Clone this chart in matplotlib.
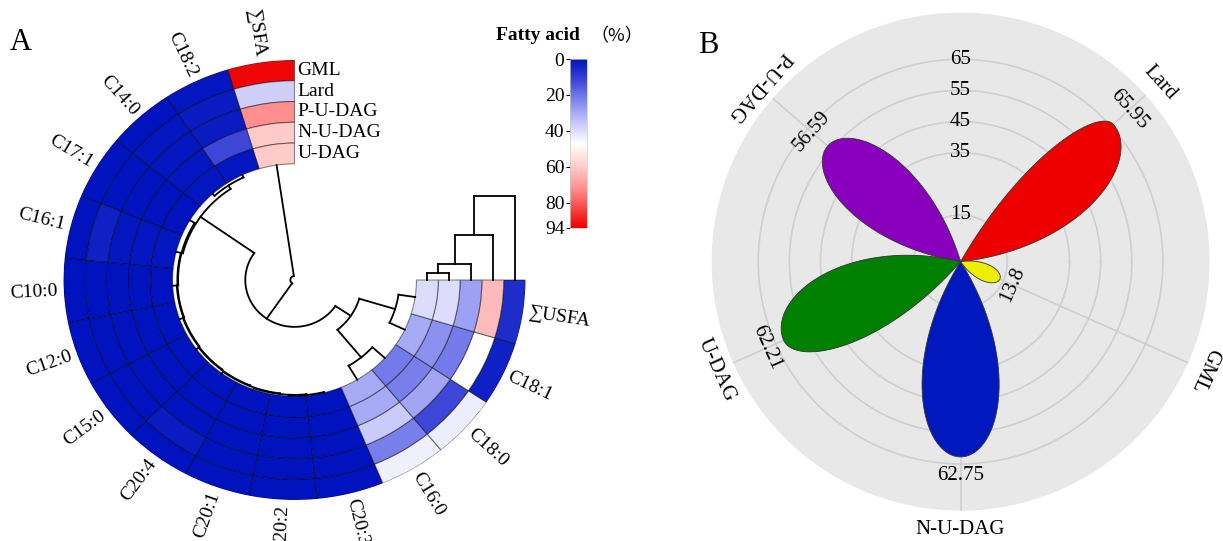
import numpy as np
import matplotlib as mpl
import matplotlib.pyplot as plt
from matplotlib.colors import LinearSegmentedColormap, Normalize
from matplotlib.cm import ScalarMappable

mpl.rcParams['font.family'] = ['Liberation Serif', 'DejaVu Serif']
mpl.rcParams['font.size'] = 14

# ---------------- panel A data ----------------
fatty_acids = ['∑SFA', 'C18:2', 'C14:0', 'C17:1', 'C16:1', 'C10:0', 'C12:0', 'C15:0',
               'C20:4', 'C20:1', 'C20:2', 'C20:3', 'C16:0', 'C18:0', 'C18:1', '∑USFA']
samples = ['GML', 'Lard', 'P-U-DAG', 'N-U-DAG', 'U-DAG']     # outer ring -> inner ring
gml     = [93, 1, 0, 0, 0, 0, 0, 0, 0, 0, 0, 0, 44, 43, 3, 6]
lard    = [37, 2, 1, 0, 3, 0, 0, 0, 2, 0, 0, 0, 22, 12, 47, 63]
p_u_dag = [72, 2, 1, 0, 1, 0, 0, 0, 0, 0, 0, 0, 36, 29, 21, 28]
n_u_dag = [60, 12, 1, 0, 1, 0, 0, 0, 0, 0, 0, 0, 30, 22, 25, 40]
u_dag   = [60, 1, 1, 0, 1, 0, 0, 0, 0, 0, 0, 0, 30, 21, 30, 40]

# column clustering (child a, child b, merge height) -> new node ids from 16
col_merges = [(10, 11, 0.003), (9, 16, 0.006), (8, 17, 0.009), (7, 18, 0.012),
              (6, 19, 0.015), (5, 20, 0.018), (4, 21, 0.021), (3, 22, 0.024),
              (1, 2, 0.012), (24, 23, 0.030),
              (12, 13, 0.073), (14, 15, 0.073), (26, 27, 0.235),
              (25, 28, 0.315), (0, 29, 0.51)]
# sample clustering (indices into samples) -> new node ids from 5
row_merges = [(4, 3, 0.032), (5, 2, 0.073), (6, 1, 0.205), (7, 0, 0.382)]

cbar_ticks = [0, 20, 40, 60, 80, 94]
cmap_stops = [(0, '#0013BE'), (12, '#3E47D7'), (22, '#7A80EC'), (30, '#A8ACF5'),
              (38, '#D4D4FA'), (47, '#FFFFFF'), (60, '#FFCACA'), (72, '#FF9090'),
              (94, '#EE0000')]

# ---------------- panel B data ----------------
groups_b = ['Lard', 'P-U-DAG', 'U-DAG', 'N-U-DAG', 'GML']
angles_b = [42, 139, 204, 270, 336]
values_b = [65.95, 56.59, 62.21, 62.75, 13.8]
colors_b = ['#EE0000', '#8800BB', '#008000', '#0019BE', '#EEEE00']
rings_b = [15, 35, 45, 55, 65]

W, H = 1223, 541
fig = plt.figure(figsize=(W / 100, H / 100), dpi=100)

cmap = LinearSegmentedColormap.from_list('fa', [(v / 94, c) for v, c in cmap_stops])
norm = Normalize(0, 94)

# ================= panel A =================
cx, cy, rx, ry = 294.5, 280, 231, 220
rect_a = [(cx - rx) / W, (H - cy - ry) / H, 2 * rx / W, 2 * ry / H]
axA = fig.add_axes(rect_a, projection='polar')
axA.set_aspect('auto')
axA.set_ylim(0, 1)
axA.axis('off')

r_in = 0.528
ring_w = (1 - r_in) / 5
n_col = len(fatty_acids)
col_w = np.radians(270) / n_col
col_theta = np.radians(90) + col_w * (np.arange(n_col) + 0.5)

table = [gml, lard, p_u_dag, n_u_dag, u_dag]
for i, row in enumerate(table):
    bottom = r_in + (4 - i) * ring_w
    axA.bar(col_theta, ring_w, width=col_w, bottom=bottom,
            color=cmap(norm(np.array(row))), edgecolor=(0, 0, 0, 0.45),
            linewidth=0.8, align='center')

# circular dendrogram for the fatty acids
pos = {i: col_theta[i] for i in range(n_col)}
rad = {i: r_in for i in range(n_col)}
for k, (a, b, h) in enumerate(col_merges):
    r = r_in - h
    for c in (a, b):
        axA.plot([pos[c], pos[c]], [rad[c], r], color='black', lw=1.3)
    arc = np.linspace(pos[a], pos[b], 80)
    axA.plot(arc, np.full_like(arc, r), color='black', lw=1.3)
    pos[n_col + k] = (pos[a] + pos[b]) / 2
    rad[n_col + k] = r

for th, name in zip(col_theta, fatty_acids):
    deg = np.degrees(th)
    if np.cos(th) >= 0:
        rot, ha = deg, 'left'
    else:
        rot, ha = deg - 180, 'right'
    axA.text(th, 1.025, name, rotation=rot, rotation_mode='anchor',
             ha=ha, va='center', fontsize=14)

# overlay in cartesian units for the sample dendrogram and labels
axO = fig.add_axes(rect_a)
axO.set_xlim(-1, 1)
axO.set_ylim(-1, 1)
axO.axis('off')

xpos = {i: r_in + (4 - i + 0.5) * ring_w for i in range(len(samples))}
ypos = {i: 0.0 for i in range(len(samples))}
for k, (a, b, h) in enumerate(row_merges):
    for c in (a, b):
        axO.plot([xpos[c], xpos[c]], [ypos[c], h], color='black', lw=1.3)
    axO.plot([xpos[a], xpos[b]], [h, h], color='black', lw=1.3)
    xpos[len(samples) + k] = (xpos[a] + xpos[b]) / 2
    ypos[len(samples) + k] = h

for i, s in enumerate(samples):
    axO.text(0.012, r_in + (4 - i + 0.5) * ring_w, s, ha='left', va='center', fontsize=14)

# colour bar
cax = fig.add_axes([570 / W, (H - 228) / H, 17 / W, 169 / H])
cb = fig.colorbar(ScalarMappable(norm=norm, cmap=cmap), cax=cax)
cb.set_ticks(cbar_ticks)
cax.invert_yaxis()
cax.yaxis.set_ticks_position('left')
cax.tick_params(length=3, width=0.8, labelsize=14, pad=1)
cb.outline.set_edgecolor('#cccccc')
cb.outline.set_linewidth(0.5)
fig.text(496 / W, (H - 36) / H, 'Fatty acid', fontsize=14, weight='bold',
         ha='left', va='center')
fig.text(590 / W, (H - 36) / H, '（%）', fontsize=13, ha='left', va='center',
         family=['Noto Sans CJK SC', 'DejaVu Sans'])

fig.text(21 / W, (H - 43) / H, 'A', fontsize=22, ha='center', va='center')

# ================= panel B =================
bx, by, br = 960.6, 261.6, 249
axB = fig.add_axes([(bx - br) / W, (H - by - br) / H, 2 * br / W, 2 * br / H],
                   projection='polar')
axB.set_aspect('auto')
axB.set_ylim(0, 80)
axB.set_facecolor('#E8E8E8')
axB.spines['polar'].set_visible(False)
axB.set_rgrids(rings_b, labels=[])
axB.set_thetagrids(angles_b, labels=[])
axB.tick_params(length=0)
axB.grid(color='#CFCFCF', lw=1.2)

# petal widths on the clockwise / counter-clockwise side (angular factor)
k_cw = [2.5, 2.8, 2.4, 2.8, 2.8]
k_ccw = [5.0, 2.8, 3.6, 2.8, 2.8]
for ang, val, col, kc, ka in zip(angles_b, values_b, colors_b, k_cw, k_ccw):
    d1 = np.linspace(-90 / kc, 0, 120)
    d2 = np.linspace(0, 90 / ka, 120)[1:]
    r = np.concatenate([val * np.cos(np.radians(kc * d1)), val * np.cos(np.radians(ka * d2))])
    th = np.radians(ang + np.concatenate([d1, d2]))
    axB.fill(th, r, facecolor=col, edgecolor='#333333', lw=0.6, zorder=3)

for v in rings_b:
    axB.text(np.pi / 2, v, str(v), ha='center', va='center', fontsize=15, zorder=5)

val_rot = [-90, -90, 90, 90, 90]
lab_rot = [-90, 90, 90, 90, -90]
val_off = [7, 7, 6, 6, 4.5]
for ang, val, name, vr, lr, off in zip(angles_b, values_b, groups_b, val_rot, lab_rot, val_off):
    axB.text(np.radians(ang), val + off, f'{val:g}', rotation=ang + vr,
             rotation_mode='anchor', ha='center', va='center', fontsize=15, zorder=5)
    axB.text(np.radians(ang), 86, name, rotation=ang + lr, rotation_mode='anchor',
             ha='center', va='center', fontsize=15)

fig.text(708 / W, (H - 45) / H, 'B', fontsize=22, ha='center', va='center')

fig.savefig('out.png', dpi=100, facecolor='white')
